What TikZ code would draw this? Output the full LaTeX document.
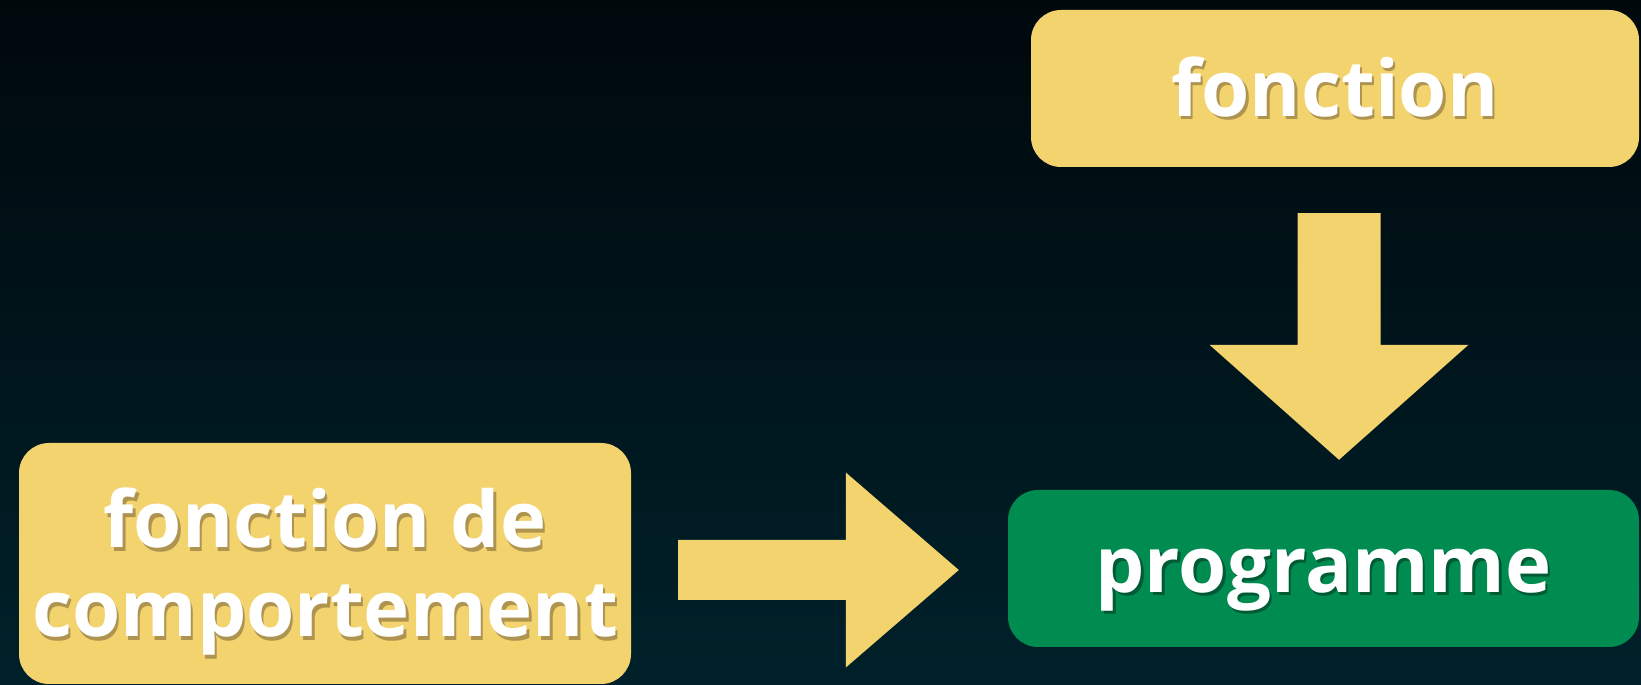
\documentclass[tikz,border=0pt]{standalone}
\usepackage{fontspec}
\setmainfont{Open Sans}
\usetikzlibrary{calc}
\definecolor{bgtop}{RGB}{0,8,12}
\definecolor{bgbot}{RGB}{0,33,42}
\definecolor{paper}{RGB}{242,211,110}
\definecolor{prog}{RGB}{0,140,80}
\definecolor{shY}{RGB}{175,148,80}
\definecolor{shG}{RGB}{0,90,52}
\newcommand\shtext[2]{\leavevmode\rlap{\kern2.5pt\raisebox{-3.5pt}{\textcolor{#1}{#2}}}#2}
\begin{document}
\begin{tikzpicture}[x=1pt,y=1pt,
  card/.style={rectangle, rounded corners=30pt, inner sep=0pt},
  ybox/.style={card, fill=paper},
  gbox/.style={card, fill=prog},
  cardtext/.style={inner sep=0pt, text=white, align=center,
    font=\bfseries\fontsize{78}{89}\selectfont},
  blockarrow/.style={fill=paper}]
\fill[top color=bgtop, bottom color=bgbot] (0,0) rectangle (1641,685);
\useasboundingbox (0,0) rectangle (1641,685);

\node[ybox, minimum width=608pt, minimum height=157pt] (fon) at (1335,596.5) {};
\node[gbox, minimum width=631pt, minimum height=157pt] (prog) at (1323.5,116.5) {};
\node[ybox, minimum width=612pt, minimum height=241pt] (comp) at (325,121.5) {};

\node[cardtext] (fontext) at (fon.center) {\shtext{shY}{fonction}};
\node[cardtext] (progtext) at ($(prog.center)+(0,-13)$) {\shtext{shG}{programme}};
\node[cardtext] (comptext) at ($(comp.center)+(0,-10)$) {\shtext{shY}{fonction de}\\\shtext{shY}{comportement}};

% down arrow: fon -> prog
\coordinate (dtop) at ($(fon.south)+(4,-46)$);
\coordinate (dtip) at ($(dtop |- prog.north)+(0,30)$);
\fill[blockarrow] ($(dtop)+(-41.5,0)$) -- ($(dtop)+(41.5,0)$) -- ($(dtip)+(41.5,115)$)
  -- ($(dtip)+(129.5,115)$) -- (dtip) -- ($(dtip)+(-129.5,115)$) -- ($(dtip)+(-41.5,115)$) -- cycle;

% right arrow: comp -> prog
\coordinate (rs) at ($(comp.east)+(47,-6.5)$);
\coordinate (rtip) at ($(rs -| prog.west)+(-49,0)$);
\fill[blockarrow] ($(rs)+(0,30)$) -- ($(rtip)+(-113,30)$) -- ($(rtip)+(-113,97.5)$) -- (rtip)
  -- ($(rtip)+(-113,-97.5)$) -- ($(rtip)+(-113,-30)$) -- ($(rs)+(0,-30)$) -- cycle;
\end{tikzpicture}
\end{document}
